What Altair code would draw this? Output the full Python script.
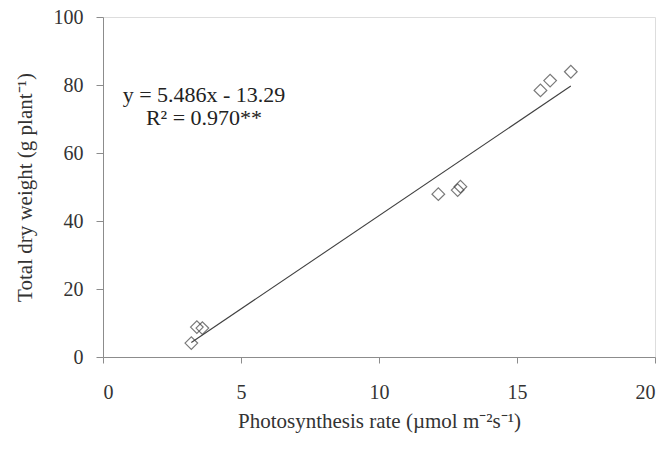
import altair as alt
import pandas as pd

# Data
photosynthesis = [3.2, 3.4, 3.6, 12.15, 12.85, 12.95, 15.85, 16.2, 16.95]
dry_weight = [4.1, 8.8, 8.5, 47.9, 49.1, 50.1, 78.4, 81.3, 83.9]

slope = 5.486
intercept = -13.29
eq_line1 = "y = 5.486x - 13.29"
eq_line2 = "R² = 0.970**"

x_ticks = [0, 5, 10, 15, 20]
y_ticks = [0, 10, 20, 30, 40, 50, 60, 70, 80, 90, 100]

pts = pd.DataFrame({"x": photosynthesis, "y": dry_weight})
xmin, xmax = min(photosynthesis), max(photosynthesis)
fit = pd.DataFrame({"x": [xmin, xmax], "y": [slope * xmin + intercept, slope * xmax + intercept]})

FONT = "Liberation Serif"
AX = "#8c8c8c"
TXT = "#333333"

xscale = alt.Scale(domain=[0, 20], nice=False)
yscale = alt.Scale(domain=[0, 100], nice=False)

xaxis = alt.Axis(values=x_ticks, title="Photosynthesis rate (µmol m⁻²s⁻¹)", grid=False,
                 domainColor=AX, tickColor=AX, tickSize=6, labelPadding=19,
                 labelFont=FONT, labelFontSize=20, labelColor=TXT,
                 titleFont=FONT, titleFontSize=21, titleFontWeight="normal", titleColor=TXT,
                 titlePadding=8)
yaxis = alt.Axis(values=y_ticks, title="Total dry weight (g plant⁻¹)", grid=False,
                 labelExpr="datum.value % 20 == 0 ? datum.label : ''",
                 domainColor=AX, tickColor=AX, tickSize=7, labelPadding=13,
                 labelFont=FONT, labelFontSize=20, labelColor=TXT,
                 titleFont=FONT, titleFontSize=21, titleFontWeight="normal", titleColor=TXT,
                 titlePadding=18)

points = alt.Chart(pts).mark_point(shape="diamond", filled=False, size=160,
                                   stroke="#404040", strokeWidth=1.2).encode(
    x=alt.X("x:Q", scale=xscale, axis=xaxis),
    y=alt.Y("y:Q", scale=yscale, axis=yaxis),
)

line = alt.Chart(fit).mark_line(color="#404040", strokeWidth=1.1).encode(
    x=alt.X("x:Q", scale=xscale),
    y=alt.Y("y:Q", scale=yscale),
)

ann1 = alt.Chart(pd.DataFrame({"label": [eq_line1]})).mark_text(
    font=FONT, fontSize=22, color="#222222", align="center", baseline="alphabetic"
).encode(text="label:N", x=alt.value(101), y=alt.value(85))

ann2 = alt.Chart(pd.DataFrame({"label": [eq_line2]})).mark_text(
    font=FONT, fontSize=22, color="#222222", align="center", baseline="alphabetic"
).encode(text="label:N", x=alt.value(101), y=alt.value(108))

chart = alt.layer(points, line, ann1, ann2).properties(
    width=552, height=340,
    autosize=alt.AutoSizeParams(type="none"),
    padding={"left": 103, "top": 17, "right": 15, "bottom": 93},
).configure_view(stroke=None).configure(background="white")

chart.save("out.html", embed_options={"renderer": "svg", "actions": False})
